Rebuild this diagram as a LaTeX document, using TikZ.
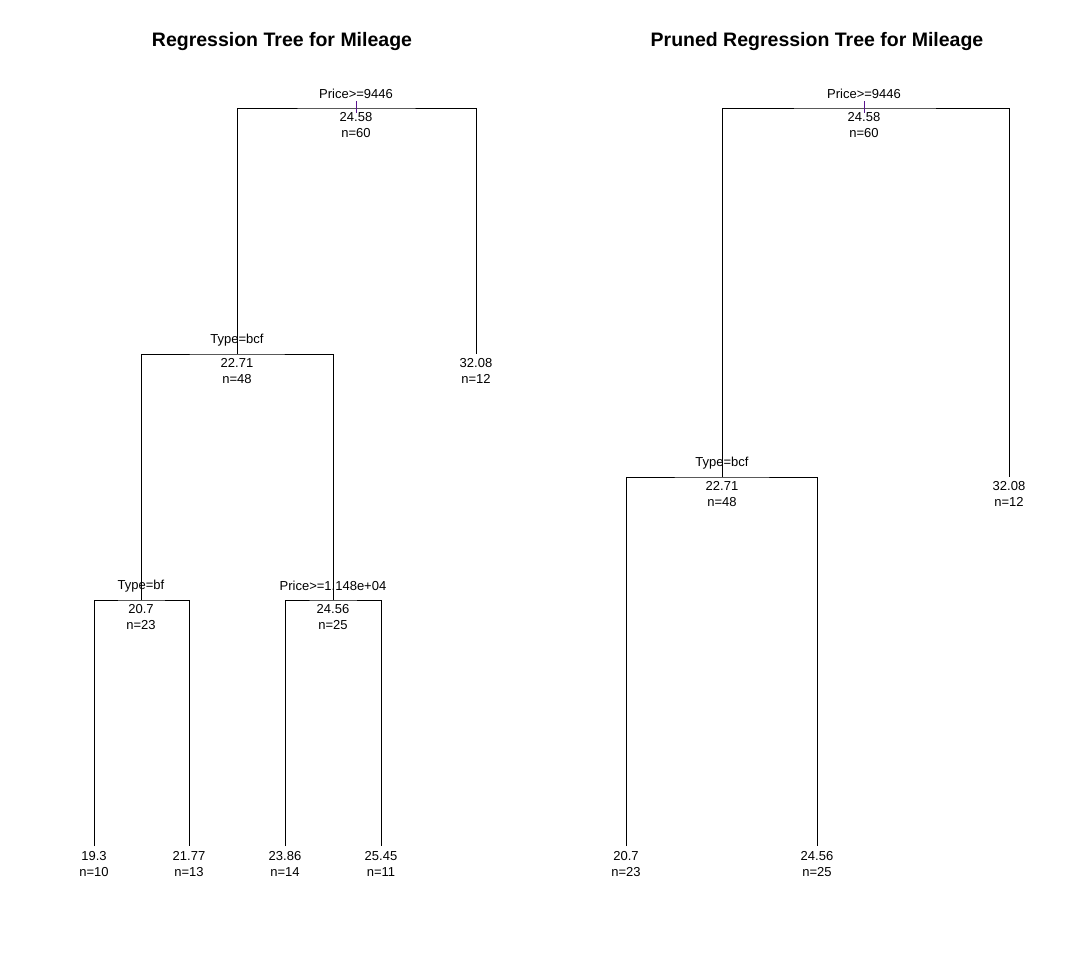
\documentclass[tikz,border=0pt]{standalone}
\usepackage{fontspec}
\setmainfont{Liberation Sans}
\usepackage{xcolor}
\definecolor{rtblack}{RGB}{0,0,0}
\definecolor{rtpurple}{RGB}{90,20,140}
\usetikzlibrary{positioning,calc}

\begin{document}
\begin{tikzpicture}[x=1pt,y=-1pt,line width=0.8pt,
  splitlbl/.style={font=\fontsize{13}{15}\selectfont, inner sep=0pt, anchor=base},
  nodeval/.style={font=\fontsize{13}{16}\selectfont, align=center, inner sep=0pt, anchor=north},
  titlelbl/.style={font=\fontsize{19.5}{22}\selectfont\bfseries, inner sep=0pt, anchor=base},
  treeedge/.style={draw=rtblack},
  rootmark/.style={draw=rtpurple}]
  \useasboundingbox (0,0) rectangle (1065,974);
  %% titles
  \node[titlelbl] (titleA) at (282,47) {Regression Tree for Mileage};
  \node[titlelbl] (titleB) at (817,47) {Pruned Regression Tree for Mileage};
  %% full tree
  \coordinate (aroot) at (356,108);
  \coordinate (atype) at (237,354);
  \coordinate (aleafB) at (476,354);
  \coordinate (abf) at (141,600);
  \coordinate (aprice) at (333,600);
  \coordinate (aleafC) at (94,846);
  \coordinate (aleafD) at (189,846);
  \coordinate (aleafE) at (285,846);
  \coordinate (aleafF) at (381,846);
  \draw[treeedge] (atype) |- (aroot) -| (aleafB);
  \draw[treeedge] (abf) |- (atype) -| (aprice);
  \draw[treeedge] (aleafC) |- (abf) -| (aleafD);
  \draw[treeedge] (aleafE) |- (aprice) -| (aleafF);
  \draw[rootmark] ($(aroot)+(0,-7)$) -- ($(aroot)+(0,5)$);
  \node[splitlbl] (aroot-s) at ($(aroot)+(0,-9.5)$) {Price>=9446};
  \node[splitlbl] (atype-s) at ($(atype)+(0,-11)$) {Type=bcf};
  \node[splitlbl] (abf-s) at ($(abf)+(0,-11)$) {Type=bf};
  \node[splitlbl] (aprice-s) at ($(aprice)+(0,-9.5)$) {Price>=1.148e+04};
  \node[nodeval] (aroot-v) at ($(aroot)+(0,4.5)$) {24.58\\n=60};
  \node[nodeval] (atype-v) at ($(atype)+(0,4.5)$) {22.71\\n=48};
  \node[nodeval] (aleafB-v) at ($(aleafB)+(0,4.5)$) {32.08\\n=12};
  \node[nodeval] (abf-v) at ($(abf)+(0,4.5)$) {20.7\\n=23};
  \node[nodeval] (aprice-v) at ($(aprice)+(0,4.5)$) {24.56\\n=25};
  \node[nodeval] (aleafC-v) at ($(aleafC)+(0,5.5)$) {19.3\\n=10};
  \node[nodeval] (aleafD-v) at ($(aleafD)+(0,5.5)$) {21.77\\n=13};
  \node[nodeval] (aleafE-v) at ($(aleafE)+(0,5.5)$) {23.86\\n=14};
  \node[nodeval] (aleafF-v) at ($(aleafF)+(0,5.5)$) {25.45\\n=11};
  %% pruned tree
  \coordinate (broot) at (864,108);
  \coordinate (btype) at (722,477);
  \coordinate (bleafB) at (1009,477);
  \coordinate (bleafC) at (626,846);
  \coordinate (bleafD) at (817,846);
  \draw[treeedge] (btype) |- (broot) -| (bleafB);
  \draw[treeedge] (bleafC) |- (btype) -| (bleafD);
  \draw[rootmark] ($(broot)+(0,-7)$) -- ($(broot)+(0,5)$);
  \node[splitlbl] (broot-s) at ($(broot)+(0,-9.5)$) {Price>=9446};
  \node[splitlbl] (btype-s) at ($(btype)+(0,-11)$) {Type=bcf};
  \node[nodeval] (broot-v) at ($(broot)+(0,4.5)$) {24.58\\n=60};
  \node[nodeval] (btype-v) at ($(btype)+(0,4.5)$) {22.71\\n=48};
  \node[nodeval] (bleafB-v) at ($(bleafB)+(0,4.5)$) {32.08\\n=12};
  \node[nodeval] (bleafC-v) at ($(bleafC)+(0,5.5)$) {20.7\\n=23};
  \node[nodeval] (bleafD-v) at ($(bleafD)+(0,5.5)$) {24.56\\n=25};
\end{tikzpicture}
\end{document}
